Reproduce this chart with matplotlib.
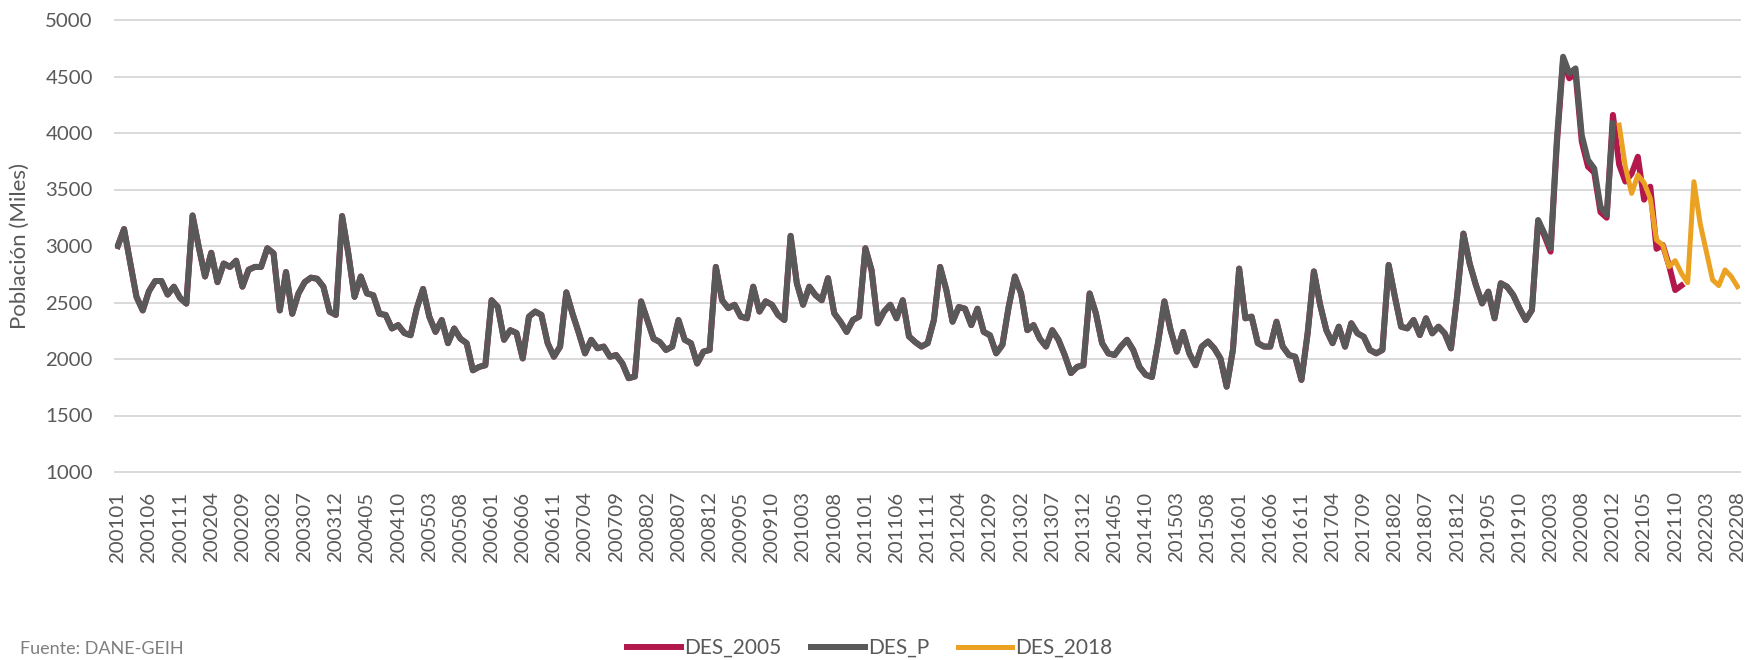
import numpy as np
import matplotlib
matplotlib.use("Agg")
import matplotlib.pyplot as plt

plt.rcParams['font.family'] = ['Lato', 'DejaVu Sans']

# periodos mensuales 200101..202208 (la hoja fuente repite 202012 una vez)
periods = [f"{y}{m:02d}" for y in range(2001, 2021) for m in range(1, 13)]
periods += ["202012"]
periods += [f"{y}{m:02d}" for y in (2021, 2022) for m in range(1, 13)
            if not (y == 2022 and m > 8)]

# desocupados (miles)
des_p = [
    3000, 3150, 2850, 2550, 2430, 2600, 2690, 2690, 2570, 2640, 2540, 2490,  # 2001
    3270, 2990, 2730, 2940, 2680, 2845, 2815, 2870, 2640, 2790, 2815, 2815,  # 2002
    2980, 2935, 2430, 2770, 2400, 2580, 2680, 2720, 2710, 2640, 2420, 2390,  # 2003
    3265, 2935, 2550, 2730, 2580, 2565, 2400, 2390, 2270, 2300, 2230, 2210,  # 2004
    2450, 2620, 2375, 2240, 2345, 2140, 2270, 2180, 2140, 1900, 1930, 1945,  # 2005
    2520, 2460, 2170, 2255, 2230, 2005, 2375, 2420, 2390, 2140, 2020, 2110,  # 2006
    2590, 2400, 2230, 2050, 2170, 2095, 2110, 2020, 2035, 1960, 1830, 1845,  # 2007
    2510, 2345, 2180, 2150, 2080, 2110, 2345, 2170, 2140, 1960, 2065, 2080,  # 2008
    2815, 2520, 2450, 2480, 2375, 2360, 2640, 2420, 2510, 2480, 2390, 2345,  # 2009
    3090, 2670, 2480, 2640, 2565, 2520, 2715, 2405, 2330, 2240, 2345, 2375,  # 2010
    2980, 2785, 2315, 2420, 2480, 2360, 2520, 2200, 2150, 2110, 2140, 2345,  # 2011
    2815, 2610, 2330, 2460, 2445, 2300, 2445, 2240, 2210, 2050, 2125, 2460,  # 2012
    2730, 2580, 2255, 2300, 2180, 2110, 2255, 2170, 2035, 1875, 1930, 1945,  # 2013
    2580, 2405, 2140, 2050, 2035, 2110, 2170, 2080, 1930, 1860, 1840, 2150,  # 2014
    2510, 2255, 2065, 2240, 2050, 1945, 2110, 2155, 2095, 2005, 1755, 2080,  # 2015
    2800, 2360, 2375, 2140, 2110, 2110, 2330, 2110, 2035, 2020, 1815, 2230,  # 2016
    2775, 2480, 2255, 2140, 2286, 2109, 2316, 2227, 2197, 2080, 2050, 2080,  # 2017
    2832, 2551, 2286, 2271, 2345, 2212, 2360, 2227, 2286, 2227, 2094, 2560,  # 2018
    3110, 2846, 2655, 2492, 2596, 2360, 2670, 2640, 2566, 2448, 2345, 2433,  # 2019
    3230, 3112, 2979, 3940, 4675, 4528, 4572, 3980, 3761, 3687, 3348, 3274,  # 2020
    4085,
]

# DES_2005 coincide con DES_P hasta 2019; desde 2020 se separa
des_2005 = des_p[:228] + [
    3225, 3090, 2950, 3900, 4640, 4484, 4528, 3923, 3702, 3650, 3300, 3250,
    4160, 3720, 3570, 3640, 3790, 3410, 3525, 2975, 3010, 2830, 2610, 2650,
]

des_2018 = [4070, 3700, 3466, 3628, 3560, 3420, 3053, 3009, 2817, 2870,
            2758, 2675, 3569, 3200, 2950, 2700, 2650, 2788, 2729, 2640]
des_2018_start = 241

c_red = '#B3184D'
c_gray = '#595959'
c_orange = '#EBA122'
c_text = '#595959'

fig = plt.figure(figsize=(17.5, 6.6), dpi=100)
ax = fig.add_axes([115 / 1750, 1 - 472 / 660, 1625 / 1750, 452 / 660])

l1, = ax.plot(np.arange(len(des_2005)), des_2005, color=c_red, lw=4.3,
              solid_joinstyle='round', label='DES_2005')
l2, = ax.plot(np.arange(len(des_p)), des_p, color=c_gray, lw=4.3,
              solid_joinstyle='round', label='DES_P')
l3, = ax.plot(np.arange(des_2018_start, des_2018_start + len(des_2018)),
              des_2018, color=c_orange, lw=3.6, solid_joinstyle='round',
              label='DES_2018')

ax.set_ylim(1000, 5000)
ax.set_xlim(-0.45, len(periods) - 0.6)
ax.set_yticks(range(1000, 5001, 500))
ticks = list(range(0, len(periods), 5))
ax.set_xticks(ticks)
ax.set_xticklabels([periods[t] for t in ticks], rotation=90)

ax.grid(axis='y', color='#D9D9D9', lw=1.4)
for gl in ax.get_ygridlines():
    gl.set_clip_on(False)
ax.set_axisbelow(True)
for s in ax.spines.values():
    s.set_visible(False)
ax.tick_params(axis='both', length=0, labelsize=14.7, colors=c_text)
ax.tick_params(axis='y', pad=16)
ax.tick_params(axis='x', pad=14)

fig.text(20 / 1750, 1 - 246 / 660, 'Población (Miles)', rotation=90,
         ha='center', va='center', fontsize=16, color=c_text)

fig.legend(handles=[l1, l2, l3], loc='center', bbox_to_anchor=(0.497, 0.018),
           ncol=3, frameon=False, fontsize=15, handlelength=2.6,
           handletextpad=0.15, columnspacing=1.4, borderpad=0,
           labelcolor=c_text)

fig.text(20 / 1750, 3 / 660, 'Fuente: DANE-GEIH', ha='left', va='bottom',
         fontsize=13, color='#7F7F7F')

fig.savefig('out.png', dpi=100)
